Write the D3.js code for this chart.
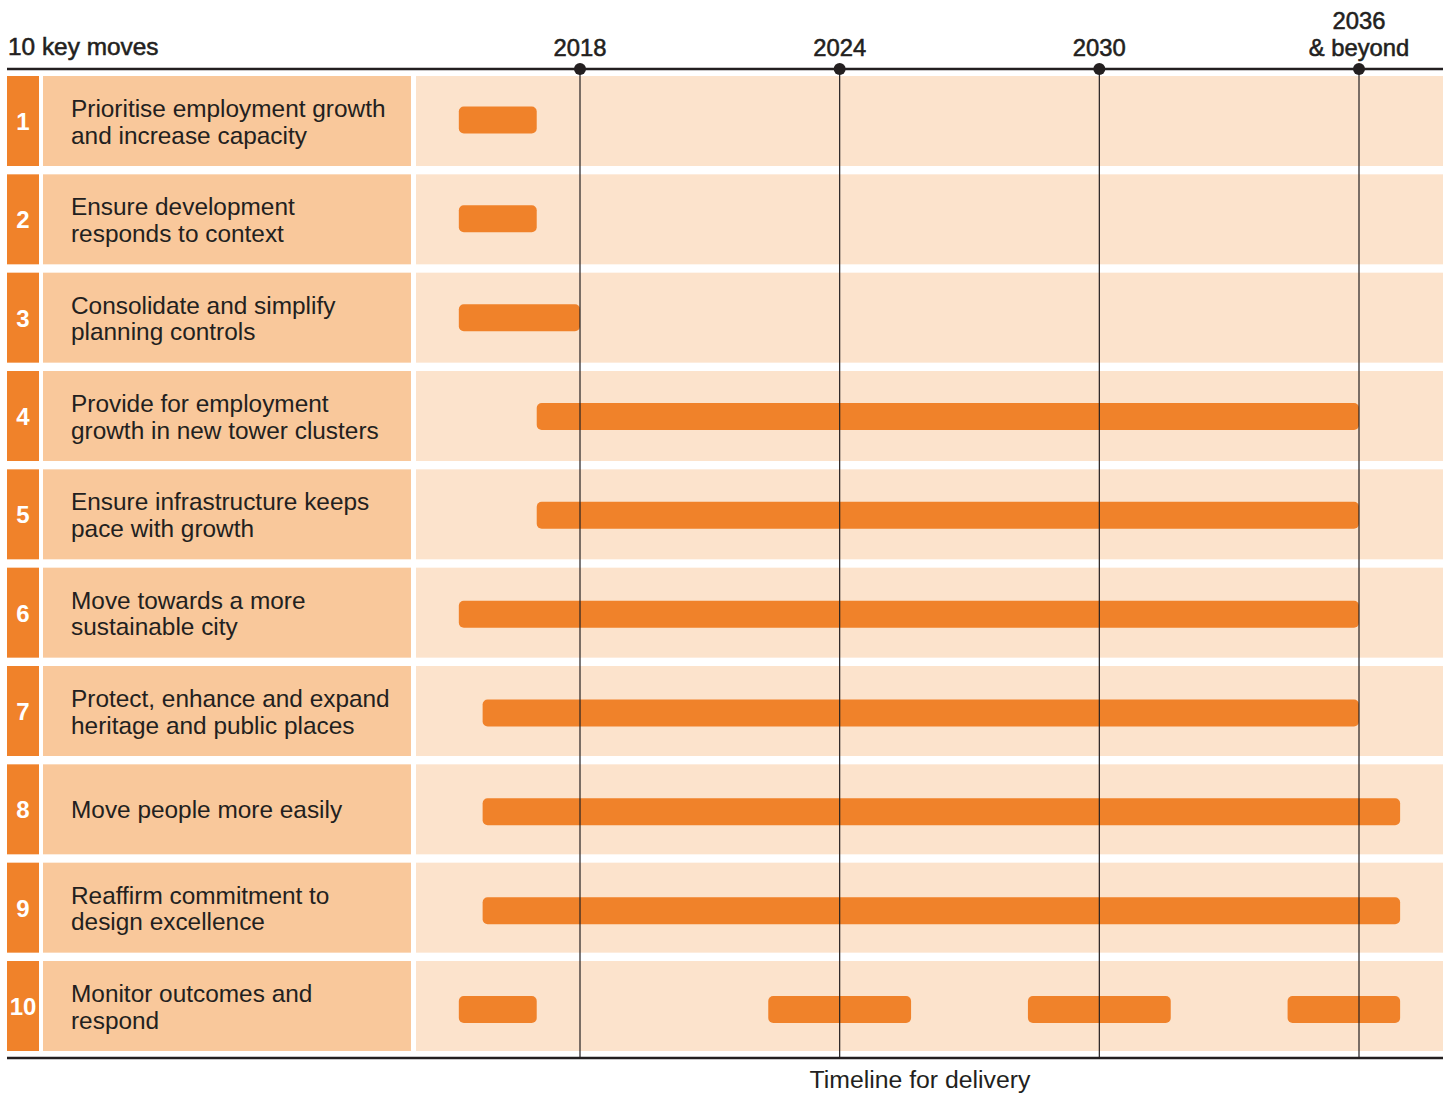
<!DOCTYPE html>
<html>
<head>
<meta charset="utf-8">
<script src="https://cdn.jsdelivr.net/npm/d3@7"></script>
<style>
  html, body { margin: 0; padding: 0; background: #ffffff; }
  svg { display: block; }
  text { font-family: "Liberation Sans", Arial, Helvetica, sans-serif; fill: #231f20; }
</style>
</head>
<body>
<svg id="chart" width="1451" height="1095"></svg>
<script>
// Key move numbers and their two-line descriptions
const moveIds = [1, 2, 3, 4, 5, 6, 7, 8, 9, 10];
const moveLabels = [
  ["Prioritise employment growth", "and increase capacity"],
  ["Ensure development", "responds to context"],
  ["Consolidate and simplify", "planning controls"],
  ["Provide for employment", "growth in new tower clusters"],
  ["Ensure infrastructure keeps", "pace with growth"],
  ["Move towards a more", "sustainable city"],
  ["Protect, enhance and expand", "heritage and public places"],
  ["Move people more easily"],
  ["Reaffirm commitment to", "design excellence"],
  ["Monitor outcomes and", "respond"]
];

// Delivery periods for each move, as [start year, end year] spans
const deliverySpans = [
  [[2015.2, 2017.0]],
  [[2015.2, 2017.0]],
  [[2015.2, 2018.0]],
  [[2017.0, 2036.0]],
  [[2017.0, 2036.0]],
  [[2015.2, 2036.0]],
  [[2015.75, 2036.0]],
  [[2015.75, 2036.95]],
  [[2015.75, 2036.95]],
  [[2015.2, 2017.0], [2022.35, 2025.65], [2028.35, 2031.65], [2034.35, 2036.95]]
];

// Milestone years on the timeline and their labels
const yearTicks = [2018, 2024, 2030, 2036];
const yearLabels = [["2018"], ["2024"], ["2030"], ["2036", "& beyond"]];

const headerTitle = "10 key moves";
const footerTitle = "Timeline for delivery";

// Layout
const left = 7, right = 1443;
const numX0 = 7, numX1 = 39;
const labX0 = 43, labX1 = 411;
const tlX0 = 416, tlX1 = 1443;
const headerY = 69, footerY = 1058;

const colors = {
  strong: "#f0822a",
  label: "#f9c89b",
  track: "#fce3cc",
  ink: "#231f20"
};

const svg = d3.select("#chart");

const x = d3.scaleLinear().domain([2018, 2036]).range([580, 1359]);
const y = d3.scaleBand().domain(moveIds).range([76, 1051]).paddingInner(0.08475).paddingOuter(0);
const yBar = d3.scalePoint().domain(moveIds).range([120, 1009.5]);
const bw = y.bandwidth();

// Row backgrounds
const rows = svg.append("g").selectAll("g").data(moveIds).join("g")
  .attr("transform", d => `translate(0,${y(d)})`);

rows.append("rect").attr("x", numX0).attr("width", numX1 - numX0).attr("height", bw).attr("fill", colors.strong);
rows.append("rect").attr("x", labX0).attr("width", labX1 - labX0).attr("height", bw).attr("fill", colors.label);
rows.append("rect").attr("x", tlX0).attr("width", tlX1 - tlX0).attr("height", bw).attr("fill", colors.track);

// Move numbers
rows.append("text")
  .attr("x", (numX0 + numX1) / 2)
  .attr("y", bw / 2 + 9)
  .attr("text-anchor", "middle")
  .style("fill", "#ffffff")
  .style("font-weight", "bold")
  .style("font-size", "24px")
  .text(d => d);

// Move descriptions
rows.append("text")
  .style("font-size", "24.4px")
  .each(function(d, i) {
    const lines = moveLabels[i];
    const t = d3.select(this);
    const first = lines.length === 1 ? bw / 2 + 9 : bw / 2 - 4;
    lines.forEach((line, k) => {
      t.append("tspan").attr("x", 71).attr("y", first + k * 26.8).text(line);
    });
  });

// Delivery bars
const barH = 27;
svg.append("g").selectAll("g").data(moveIds).join("g")
  .each(function(d, i) {
    d3.select(this).selectAll("rect").data(deliverySpans[i]).join("rect")
      .attr("x", s => x(s[0]))
      .attr("width", s => x(s[1]) - x(s[0]))
      .attr("y", yBar(d) - barH / 2)
      .attr("height", barH)
      .attr("rx", 5).attr("ry", 5)
      .attr("fill", colors.strong);
  });

// Milestone gridlines
svg.append("g").selectAll("line").data(yearTicks).join("line")
  .attr("x1", d => x(d)).attr("x2", d => x(d))
  .attr("y1", headerY).attr("y2", footerY)
  .attr("stroke", colors.ink).attr("stroke-width", 1.2);

// Header and footer rules
svg.append("line").attr("x1", left).attr("x2", right).attr("y1", headerY).attr("y2", headerY)
  .attr("stroke", colors.ink).attr("stroke-width", 2.4);
svg.append("line").attr("x1", left).attr("x2", right).attr("y1", footerY).attr("y2", footerY)
  .attr("stroke", colors.ink).attr("stroke-width", 2.4);

// Milestone markers
svg.append("g").selectAll("circle").data(yearTicks).join("circle")
  .attr("cx", d => x(d)).attr("cy", headerY).attr("r", 6).attr("fill", colors.ink);

// Milestone labels
svg.append("g").selectAll("text").data(yearTicks).join("text")
  .attr("text-anchor", "middle")
  .style("font-size", "23.8px")
  .style("stroke", colors.ink).style("stroke-width", "0.55px")
  .each(function(d, i) {
    const lines = yearLabels[i];
    const t = d3.select(this);
    const base = 55.5 - (lines.length - 1) * 27;
    lines.forEach((line, k) => {
      t.append("tspan").attr("x", x(d)).attr("y", base + k * 27).text(line);
    });
  });

// Titles
svg.append("text").attr("x", 8).attr("y", 55)
  .style("font-size", "24.4px")
  .style("stroke", colors.ink).style("stroke-width", "0.55px")
  .text(headerTitle);

svg.append("text").attr("x", 920).attr("y", 1088)
  .attr("text-anchor", "middle")
  .style("font-size", "24.8px")
  .text(footerTitle);
</script>
</body>
</html>
